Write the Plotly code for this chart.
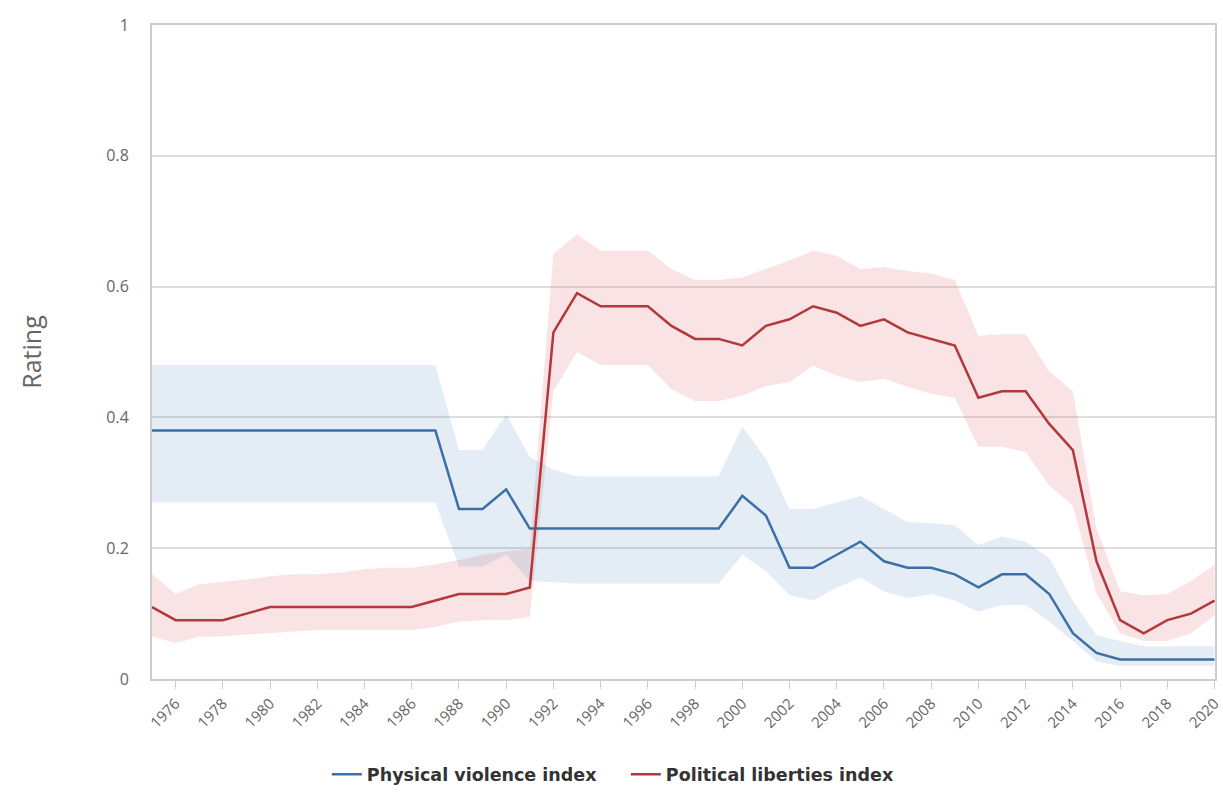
import plotly.graph_objects as go

years = list(range(1975, 2021))

violence = [0.38]*13 + [0.26, 0.26, 0.29, 0.23, 0.23, 0.23, 0.23, 0.23, 0.23, 0.23, 0.23, 0.23,
            0.28, 0.25, 0.17, 0.17, 0.19, 0.21, 0.18, 0.17, 0.17, 0.16, 0.14, 0.16, 0.16, 0.13,
            0.07, 0.04, 0.03, 0.03, 0.03, 0.03, 0.03]
violence_hi = [0.48]*13 + [0.35, 0.35, 0.405, 0.34, 0.32, 0.31, 0.31, 0.31, 0.31, 0.31, 0.31, 0.31,
               0.386, 0.337, 0.26, 0.26, 0.27, 0.28, 0.26, 0.24, 0.238, 0.235, 0.205, 0.218, 0.21, 0.185,
               0.12, 0.067, 0.058, 0.05, 0.05, 0.05, 0.05]
violence_lo = [0.27]*13 + [0.172, 0.172, 0.19, 0.15, 0.148, 0.146, 0.146, 0.146, 0.146, 0.146, 0.146, 0.146,
               0.19, 0.165, 0.128, 0.12, 0.14, 0.155, 0.134, 0.124, 0.13, 0.12, 0.103, 0.113, 0.113, 0.088,
               0.058, 0.027, 0.02, 0.02, 0.02, 0.02, 0.02]

liberties = [0.11, 0.09, 0.09, 0.09, 0.10, 0.11, 0.11, 0.11, 0.11, 0.11, 0.11, 0.11, 0.12, 0.13, 0.13,
             0.13, 0.14, 0.53, 0.59, 0.57, 0.57, 0.57, 0.54, 0.52, 0.52, 0.51, 0.54, 0.55, 0.57,
             0.56, 0.54, 0.55, 0.53, 0.52, 0.51, 0.43, 0.44, 0.44, 0.39, 0.35, 0.18, 0.09, 0.07,
             0.09, 0.10, 0.12]
liberties_hi = [0.16, 0.13, 0.145, 0.148, 0.152, 0.157, 0.16, 0.16, 0.163, 0.168, 0.17, 0.17, 0.175, 0.182,
                0.19, 0.195, 0.2, 0.65, 0.68, 0.655, 0.655, 0.655, 0.627, 0.61, 0.61, 0.614, 0.627, 0.64,
                0.655, 0.647, 0.627, 0.63, 0.624, 0.62, 0.61, 0.525, 0.527, 0.527, 0.47, 0.44, 0.23,
                0.134, 0.128, 0.13, 0.15, 0.174]
liberties_lo = [0.065, 0.055, 0.065, 0.065, 0.068, 0.07, 0.073, 0.075, 0.075, 0.075, 0.075, 0.075, 0.08, 0.088,
                0.09, 0.09, 0.095, 0.44, 0.50, 0.48, 0.48, 0.48, 0.443, 0.425, 0.425, 0.433, 0.448, 0.454,
                0.479, 0.464, 0.454, 0.459, 0.447, 0.436, 0.43, 0.355, 0.355, 0.347, 0.296, 0.265, 0.131,
                0.07, 0.058, 0.058, 0.07, 0.097]

tick_years = list(range(1976, 2021, 2))
y_ticks = [0, 0.2, 0.4, 0.6, 0.8, 1]
y_tick_labels = ["0", "0.2", "0.4", "0.6", "0.8", "1"]

BLUE = "#3c6fa6"
RED = "#b2383c"
BLUE_BAND = "rgba(90,140,195,0.16)"
RED_BAND = "rgba(225,115,120,0.2)"

fig = go.Figure()

# Red band
fig.add_trace(go.Scatter(x=years, y=liberties_hi, mode="lines", line=dict(width=0, color=RED_BAND),
                         showlegend=False, hoverinfo="skip"))
fig.add_trace(go.Scatter(x=years, y=liberties_lo, mode="lines", line=dict(width=0, color=RED_BAND),
                         fill="tonexty", fillcolor=RED_BAND, showlegend=False, hoverinfo="skip"))
# Blue band
fig.add_trace(go.Scatter(x=years, y=violence_hi, mode="lines", line=dict(width=0, color=BLUE_BAND),
                         showlegend=False, hoverinfo="skip"))
fig.add_trace(go.Scatter(x=years, y=violence_lo, mode="lines", line=dict(width=0, color=BLUE_BAND),
                         fill="tonexty", fillcolor=BLUE_BAND, showlegend=False, hoverinfo="skip"))

fig.add_trace(go.Scatter(x=years, y=violence, mode="lines",
                         name="Physical violence index\u00a0\u00a0\u00a0\u00a0",
                         line=dict(color=BLUE, width=2.5)))
fig.add_trace(go.Scatter(x=years, y=liberties, mode="lines", name="Political liberties index",
                         line=dict(color=RED, width=2.5)))

fig.update_layout(
    width=1223, height=793,
    margin=dict(l=152, r=0, t=25, b=102),
    plot_bgcolor="white", paper_bgcolor="white",
    font=dict(family="Open Sans, sans-serif", color="#666"),
    showlegend=True,
    legend=dict(orientation="h", x=0.434, xanchor="center", y=-0.146, yanchor="middle",
                traceorder="normal",
                font=dict(size=17.5, color="#333", family="DejaVu Sans, sans-serif", weight="bold"),
                itemwidth=30),
)

fig.update_xaxes(
    range=[1975, 2020.02], tickmode="array", tickvals=tick_years, ticktext=[str(y) for y in tick_years],
    tickangle=-45, ticks="outside", ticklen=8, tickcolor="#ccc", showgrid=False,
    showline=True, linecolor="#ccc", linewidth=2, mirror=True, ticklabeloverflow="allow",
    tickfont=dict(size=15, color="#666"), zeroline=False,
)
fig.update_yaxes(
    range=[0, 1], tickmode="array", tickvals=y_ticks, ticktext=y_tick_labels,
    showgrid=True, gridcolor="#ddd", gridwidth=1.5, zeroline=False,
    showline=True, linecolor="#ccc", linewidth=2, mirror=True,
    tickfont=dict(size=16, color="#666"), ticklabelstandoff=18,
    title=dict(text="Rating", font=dict(size=25, color="#666"), standoff=58),
)

fig.write_html("out.html", config={"displayModeBar": False},
               post_script="document.body.style.margin='0';document.body.style.overflow='hidden';")
